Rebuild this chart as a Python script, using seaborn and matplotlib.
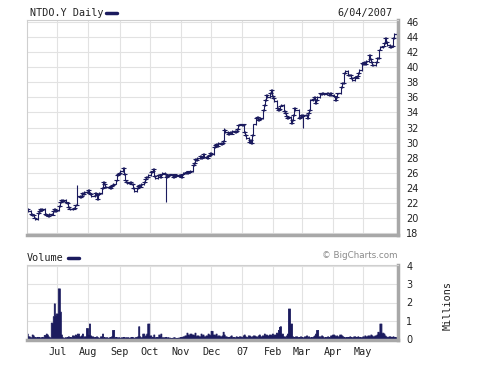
import numpy as np
import pandas as pd
import seaborn as sns
import matplotlib
matplotlib.use("Agg")
import matplotlib.pyplot as plt
from matplotlib.lines import Line2D

# ----------------------------------------
# data (one line per trading week)
# ----------------------------------------
closes = [
    21.3, 21.0,
    20.6, 20.4, 20.5, 20.1, 19.9,
    20.7, 21.0, 21.3, 21.1, 21.2,
    20.6, 20.4, 20.5, 20.3, 20.6,
    20.5, 21.0, 21.2, 21.0, 21.1,
    21.6, 22.1, 22.4, 22.3, 22.4,
    22.1, 22.0, 21.5, 21.3, 21.2,
    21.3, 21.4, 21.7, 21.8, 23.0,
    22.8, 23.0, 23.3, 23.2, 23.5,
    23.5, 23.7, 23.4, 23.2, 23.0,
    23.3, 23.1, 22.5, 23.2, 23.4,
    24.0, 24.8, 24.5, 24.1, 24.2,
    24.1, 24.0, 24.3, 24.4, 24.6,
    25.0, 25.7, 25.9, 26.0, 26.3,
    26.6, 25.9, 25.0, 24.8, 24.7,
    24.8, 24.6, 24.5, 24.0, 23.6,
    24.0, 24.3, 24.4, 24.2, 24.5,
    24.8, 25.2, 25.5, 25.4, 25.7,
    26.1, 26.2, 26.5, 25.6, 25.3,
    25.7, 25.7, 25.5, 25.8, 26.0,
    25.9, 25.4, 25.6, 25.7, 25.8,
    25.7, 25.5, 25.8, 25.6, 25.7,
    25.6, 25.7, 25.5, 25.8, 26.0,
    26.1, 26.0, 26.2, 26.1, 26.3,
    27.0, 27.3, 27.8, 27.7, 28.0,
    28.3, 28.0, 28.1, 28.5, 28.1,
    28.0, 28.3, 28.4, 28.6, 28.5,
    29.4, 29.7, 29.8, 29.6, 29.9,
    29.8, 30.0, 30.2, 31.7, 31.4,
    31.1, 31.3, 31.4, 31.2, 31.5,
    31.4, 31.6, 31.8, 32.3, 32.4,
    32.3, 32.4, 31.4, 31.0, 30.6,
    30.1, 30.3, 30.0, 31.0, 32.4,
    33.2, 33.4, 33.0, 33.1, 33.3,
    34.3, 35.0, 35.6, 36.3, 36.0,
    36.6, 37.0, 36.2, 35.9, 35.5,
    34.6, 34.3, 34.5, 34.9, 35.0,
    34.2, 33.9, 33.5, 33.2, 33.4,
    32.6, 33.0, 33.6, 34.6, 34.3,
    33.2, 33.4, 33.6, 33.5, 33.7,
    33.6, 33.3, 33.9, 34.3, 35.6,
    35.8, 36.0, 35.2, 35.6, 36.0,
    36.5, 36.4, 36.6, 36.5, 36.4,
    36.6, 36.5, 36.3, 36.6, 36.3,
    36.1, 35.6, 36.0, 36.5, 36.5,
    37.3, 37.9, 37.9, 39.2, 39.5,
    38.9, 38.9, 39.0, 38.5, 38.3,
    38.7, 38.6, 38.8, 39.2, 39.6,
    40.5, 40.4, 40.6, 40.4, 40.8,
    41.6, 41.0, 40.6, 40.2, 40.3,
    40.6, 41.2, 41.2, 42.3, 42.6,
    42.7, 43.1, 43.8, 43.3, 42.9,
    42.6, 42.8, 42.7, 43.8, 44.3,
    44.6,
]

# volume in millions
volumes = [
    0.30, 0.15,
    0.10, 0.25, 0.20, 0.12, 0.10,
    0.12, 0.10, 0.08, 0.10, 0.12,
    0.22, 0.30, 0.25, 0.15, 0.10,
    0.90, 1.25, 1.95, 1.30, 1.40,
    2.77, 1.50, 0.25, 0.10, 0.08,
    0.10, 0.12, 0.15, 0.10, 0.12,
    0.20, 0.15, 0.25, 0.20, 0.30,
    0.15, 0.20, 0.30, 0.12, 0.15,
    0.60, 0.25, 0.85, 0.20, 0.15,
    0.12, 0.10, 0.15, 0.10, 0.08,
    0.15, 0.30, 0.12, 0.10, 0.10,
    0.08, 0.10, 0.12, 0.15, 0.50,
    0.12, 0.10, 0.08, 0.10, 0.08,
    0.10, 0.12, 0.08, 0.10, 0.10,
    0.08, 0.10, 0.12, 0.10, 0.08,
    0.12, 0.15, 0.70, 0.15, 0.10,
    0.30, 0.15, 0.20, 0.30, 0.85,
    0.20, 0.10, 0.12, 0.25, 0.10,
    0.12, 0.25, 0.15, 0.30, 0.10,
    0.10, 0.12, 0.08, 0.10, 0.08,
    0.06, 0.08, 0.10, 0.08, 0.06,
    0.08, 0.10, 0.12, 0.10, 0.15,
    0.20, 0.35, 0.25, 0.20, 0.30,
    0.25, 0.20, 0.35, 0.15, 0.20,
    0.15, 0.30, 0.20, 0.25, 0.15,
    0.20, 0.30, 0.25, 0.20, 0.45,
    0.25, 0.20, 0.30, 0.15, 0.20,
    0.15, 0.20, 0.40, 0.25, 0.15,
    0.12, 0.10, 0.15, 0.20, 0.12,
    0.10, 0.15, 0.12, 0.10, 0.15,
    0.12, 0.20, 0.25, 0.15, 0.12,
    0.20, 0.15, 0.12, 0.15, 0.20,
    0.15, 0.12, 0.20, 0.25, 0.15,
    0.20, 0.30, 0.20, 0.25, 0.20,
    0.25, 0.20, 0.30, 0.20, 0.25,
    0.35, 0.50, 0.67, 0.70, 0.30,
    0.15, 0.12, 0.20, 0.30, 1.67,
    0.85, 0.15, 0.12, 0.10, 0.15,
    0.12, 0.10, 0.15, 0.12, 0.10,
    0.15, 0.20, 0.12, 0.15, 0.10,
    0.12, 0.15, 0.20, 0.30, 0.50,
    0.15, 0.12, 0.20, 0.15, 0.10,
    0.12, 0.15, 0.10, 0.12, 0.20,
    0.25, 0.20, 0.15, 0.20, 0.15,
    0.25, 0.20, 0.15, 0.12, 0.10,
    0.12, 0.10, 0.15, 0.12, 0.10,
    0.15, 0.12, 0.10, 0.15, 0.12,
    0.10, 0.15, 0.12, 0.20, 0.15,
    0.20, 0.15, 0.25, 0.20, 0.15,
    0.20, 0.25, 0.40, 0.35, 0.85,
    0.35, 0.30, 0.20, 0.15, 0.12,
    0.15, 0.12, 0.10, 0.15, 0.12,
    0.10,
]

# days whose bar reaches well beyond open/close
spike_highs = {"2006-07-21": 24.4, "2006-12-14": 32.0}
spike_lows = {"2006-07-21": 21.7, "2006-10-17": 22.1, "2007-03-02": 32.0}

month_starts = pd.date_range("2006-07-01", "2007-05-01", freq="MS")
month_labels = ["Jul", "Aug", "Sep", "Oct", "Nov", "Dec", "07", "Feb", "Mar", "Apr", "May"]
price_ticks = list(range(18, 47, 2))
volume_ticks = [0, 1, 2, 3, 4]

dates = pd.bdate_range("2006-06-01", "2007-06-04")
assert len(dates) == len(closes) == len(volumes)

df = pd.DataFrame({"date": dates, "close": closes, "volume": volumes})
df["open"] = df["close"].shift(1).fillna(df["close"])
df["high"] = df[["open", "close"]].max(axis=1) + 0.12
df["low"] = df[["open", "close"]].min(axis=1) - 0.12
for d, v in spike_highs.items():
    df.loc[df["date"] == d, "high"] = v
for d, v in spike_lows.items():
    df.loc[df["date"] == d, "low"] = v

# ----------------------------------------
# styling
# ----------------------------------------
sns.set_theme(style="whitegrid")
plt.rcParams["font.family"] = ["DejaVu Sans"]

NAVY = "#1b1b5e"
GRID = "#e2e2e2"
MONO = "DejaVu Sans Mono"

W, H = 500, 366
fig = plt.figure(figsize=(5, 3.66), dpi=100)
fig.patch.set_facecolor("white")

def fx(px):
    return px / W

def fy(py):
    return 1 - py / H

xmin = pd.Timestamp("2006-05-31 20:00")
xmax = pd.Timestamp("2007-06-05 00:00")

ax = fig.add_axes([fx(27), fy(235), fx(398) - fx(27), fy(20) - fy(235)])
axv = fig.add_axes([fx(27), fy(340), fx(398) - fx(27), fy(265) - fy(340)])

for a in (ax, axv):
    a.set_facecolor("white")
    a.set_xlim(xmin, xmax)
    a.set_xticks(month_starts)
    a.grid(True, color=GRID, lw=0.8)
    a.yaxis.tick_right()
    a.tick_params(axis="both", length=0, labelsize=7, colors="#222222")
    a.tick_params(axis="y", pad=6)
    for side in ("top", "left"):
        a.spines[side].set_color("#cfcfcf")
        a.spines[side].set_linewidth(0.8)
    for side in ("right", "bottom"):
        a.spines[side].set_color("#a8a8a8")
        a.spines[side].set_linewidth(2.5)
    a.set_axisbelow(True)

# price OHLC bars
ax.vlines(df["date"], df["low"], df["high"], color=NAVY, lw=0.8)
ax.plot(df["date"], df["open"], ls="none", marker=0, ms=2.0, mew=0.8, color=NAVY)
ax.plot(df["date"], df["close"], ls="none", marker=1, ms=2.0, mew=0.8, color=NAVY)
ax.set_ylim(17.8, 46.2)
ax.set_yticks(price_ticks)
ax.set_yticklabels([str(t) for t in price_ticks])
ax.set_xticklabels([])

# volume
axv.fill_between(df["date"], df["volume"], step="mid", color=NAVY, lw=0.6, edgecolor=NAVY)
axv.set_ylim(-0.05, 4.05)
axv.set_yticks(volume_ticks)
axv.set_yticklabels([str(t) for t in volume_ticks])
axv.set_xticklabels(month_labels, fontfamily=MONO, fontsize=7.3)
axv.tick_params(axis="x", pad=5)

# header texts
fig.text(fx(30), fy(13), "NTDO.Y Daily", family=MONO, fontsize=7.3, va="center", ha="left", color="#222222")
fig.add_artist(Line2D([fx(106), fx(117)], [fy(13), fy(13)], color=NAVY, lw=2.5))
fig.text(fx(393), fy(13), "6/04/2007", family=MONO, fontsize=7.3, va="center", ha="right", color="#222222")

fig.text(fx(27), fy(258), "Volume", family=MONO, fontsize=7.3, va="center", ha="left", color="#222222")
fig.add_artist(Line2D([fx(68), fx(79)], [fy(258), fy(258)], color=NAVY, lw=2.5))
fig.text(fx(397), fy(256), "\u00a9 BigCharts.com", fontsize=6.3, va="center", ha="right", color="#8a8a8a")
fig.text(fx(448), fy(305), "Millions", family=MONO, fontsize=7.3, va="center", ha="center",
         rotation=90, color="#222222")

fig.savefig("out.png", dpi=100, facecolor="white")
